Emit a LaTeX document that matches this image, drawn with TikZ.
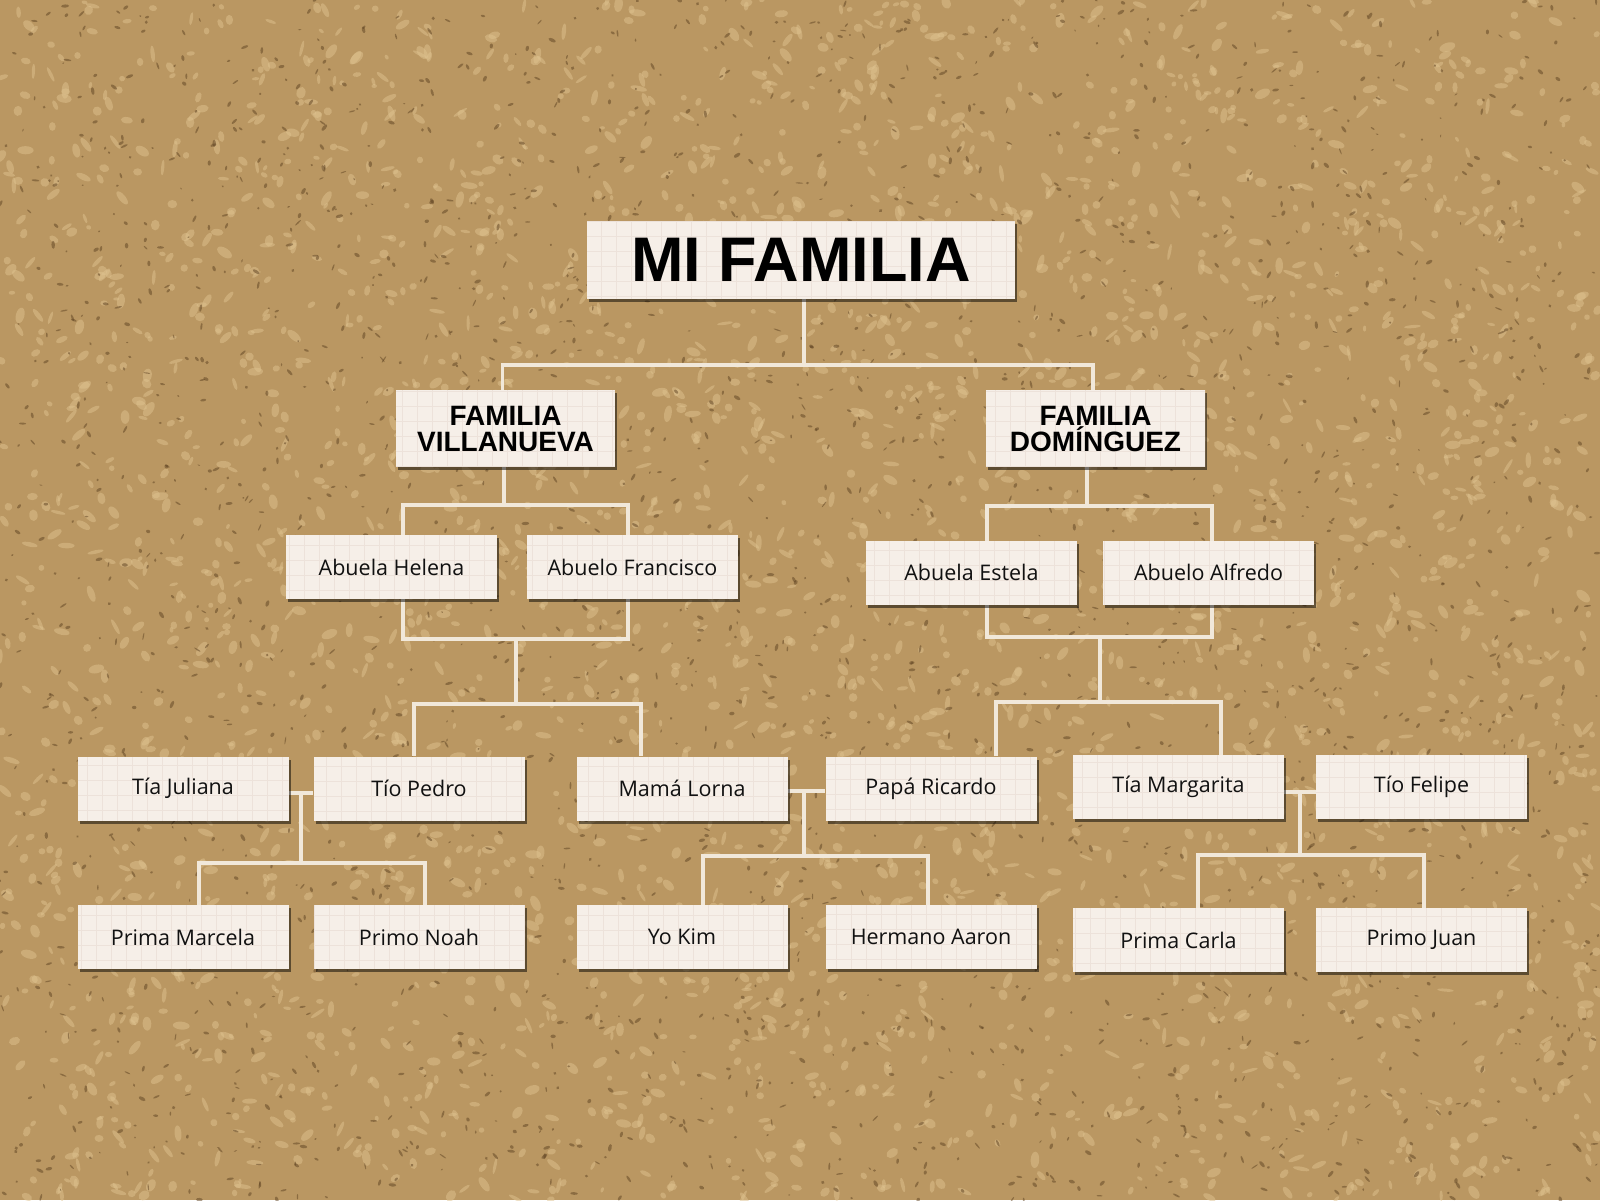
\documentclass[tikz,border=0pt]{standalone}
\usepackage{fontspec}
\setmainfont{Open Sans}
\newfontfamily\headfont{Liberation Sans}
\usetikzlibrary{shadows,calc}
\pgfdeclarelayer{texture}
\pgfdeclarelayer{lines}
\pgfsetlayers{texture,lines,main}
\definecolor{corkbase}{HTML}{BA9762}
\definecolor{corkdark}{HTML}{5E4222}
\definecolor{corklight}{HTML}{DEC28F}
\definecolor{cardc}{HTML}{F6EFE8}
\definecolor{gridc}{HTML}{EDE2DA}
\definecolor{linec}{HTML}{F1E8DA}
\definecolor{ink}{HTML}{111111}
\tikzset{
  card/.style={fill=cardc, draw=none, inner sep=0pt,
    drop shadow={shadow xshift=2pt, shadow yshift=-3pt, fill=black, opacity=0.5},
    path picture={\draw[gridc, line width=0.4pt] (path picture bounding box.south west) grid[step=15pt] (path picture bounding box.north east);}},
  person/.style={card, minimum width=211pt, minimum height=64pt, text=ink,
    font=\fontsize{21.5}{24}\selectfont},
  fambox/.style={card, minimum width=219pt, minimum height=77pt, text=black, align=center,
    font=\headfont\bfseries\fontsize{28}{26}\selectfont},
  titlebox/.style={card, minimum width=428pt, minimum height=78pt, text=black,
    font=\headfont\bfseries\fontsize{63}{63}\selectfont},
  link/.style={draw=linec, line width=3.4pt}
}
\begin{document}
\begin{tikzpicture}[x=1pt,y=-1pt]
\useasboundingbox (0,0) rectangle (1600,1200);
\begin{pgfonlayer}{texture}
  \fill[corkbase] (0,0) rectangle (1600,1200);
  \pgfmathsetseed{7}
  \foreach \i in {1,...,3200}{
    \pgfmathsetmacro{\rx}{rnd*1600}\pgfmathsetmacro{\ry}{rnd*1200}
    \pgfmathsetmacro{\ra}{2.5+rnd*6}\pgfmathsetmacro{\rb}{1.5+rnd*3}
    \pgfmathsetmacro{\rr}{rnd*180}
    \fill[corklight, opacity=0.5, rotate around={\rr:(\rx,\ry)}] (\rx,\ry) ellipse [x radius=\ra, y radius=\rb];
  }
  \foreach \i in {1,...,2600}{
    \pgfmathsetmacro{\rx}{rnd*1600}\pgfmathsetmacro{\ry}{rnd*1200}
    \pgfmathsetmacro{\ra}{1+rnd*3}\pgfmathsetmacro{\rb}{0.6+rnd*1.2}
    \pgfmathsetmacro{\rr}{rnd*180}
    \fill[corkdark, opacity=0.5, rotate around={\rr:(\rx,\ry)}] (\rx,\ry) ellipse [x radius=\ra, y radius=\rb];
  }
\end{pgfonlayer}

% nodes
\node[titlebox] (title) at (801,260) {MI FAMILIA\hspace{14pt}};
\node[fambox] (vill) at (505.5,428.5) {FAMILIA\\VILLANUEVA};
\node[fambox] (dom) at (1095.5,428.5) {FAMILIA\\DOMÍNGUEZ};
\node[person] (helena) at (391.5,567) {Abuela Helena};
\node[person] (francisco) at (632.5,567) {Abuelo Francisco};
\node[person] (estela) at (971.5,572.5) {Abuela Estela};
\node[person] (alfredo) at (1208.5,572.5) {Abuelo Alfredo};
\node[person] (juliana) at (183,788.5) {Tía Juliana};
\node[person] (pedro) at (419,788.5) {Tío Pedro};
\node[person] (lorna) at (682,788.5) {Mamá Lorna};
\node[person] (ricardo) at (931,788.5) {Papá Ricardo};
\node[person] (margarita) at (1178.5,787) {Tía Margarita};
\node[person] (felipe) at (1421.5,787) {Tío Felipe};
\node[person] (marcela) at (183,937) {Prima Marcela};
\node[person] (noah) at (419,937) {Primo Noah};
\node[person] (kim) at (682,937) {Yo Kim};
\node[person] (aaron) at (931,937) {Hermano Aaron};
\node[person] (carla) at (1178.5,940) {Prima Carla};
\node[person] (juan) at (1421.5,940) {Primo Juan};

\begin{pgfonlayer}{lines}
  % title to families
  \coordinate (j1) at (804,365);
  \draw[link] (title.south -| j1) -- (j1);
  \draw[link] ($(vill.north)+(-3,0)$) |- (j1) -| ($(dom.north)+(-2.5,0)$);
  % Villanueva
  \coordinate (v0) at (504,505);
  \coordinate (v1) at (403,505);
  \coordinate (v2) at (628,639);
  \coordinate (v3) at (516,639);
  \coordinate (v4) at (516,704);
  \draw[link] (vill.south -| v0) -- (v0);
  \draw[link] (v1) rectangle (v2);
  \draw[link] (v3) -- (v4);
  \draw[link] ($(pedro.north)+(-5,0)$) |- (v4) -| ($(lorna.north)+(-41,0)$);
  % Dominguez
  \coordinate (d0) at (1087,506);
  \coordinate (d1) at (987,506);
  \coordinate (d2) at (1212,637);
  \coordinate (d3) at (1100,637);
  \coordinate (d4) at (1100,702);
  \draw[link] (dom.south -| d0) -- (d0);
  \draw[link] (d1) rectangle (d2);
  \draw[link] (d3) -- (d4);
  \draw[link] ($(ricardo.north)+(65,0)$) |- (d4) -| ($(margarita.north)+(42.5,0)$);
  % couples
  \coordinate (c1) at (301,793);
  \coordinate (c1b) at (301,863);
  \draw[link] ($(juliana.east)+(0,4.5)$) -- ($(pedro.west)+(0,4.5)$);
  \draw[link] (c1) -- (c1b);
  \draw[link] ($(marcela.north)+(16,0)$) |- (c1b) -| ($(noah.north)+(6,0)$);
  \coordinate (c2) at (804,791);
  \coordinate (c2b) at (804,856);
  \draw[link] ($(lorna.east)+(0,2.5)$) -- ($(ricardo.west)+(0,2.5)$);
  \draw[link] (c2) -- (c2b);
  \draw[link] ($(kim.north)+(21,0)$) |- (c2b) -| ($(aaron.north)+(-3,0)$);
  \coordinate (c3) at (1300,792);
  \coordinate (c3b) at (1300,855);
  \draw[link] ($(margarita.east)+(0,5)$) -- ($(felipe.west)+(0,5)$);
  \draw[link] (c3) -- (c3b);
  \draw[link] ($(carla.north)+(19.5,0)$) |- (c3b) -| ($(juan.north)+(2.5,0)$);
\end{pgfonlayer}
\end{tikzpicture}
\end{document}
